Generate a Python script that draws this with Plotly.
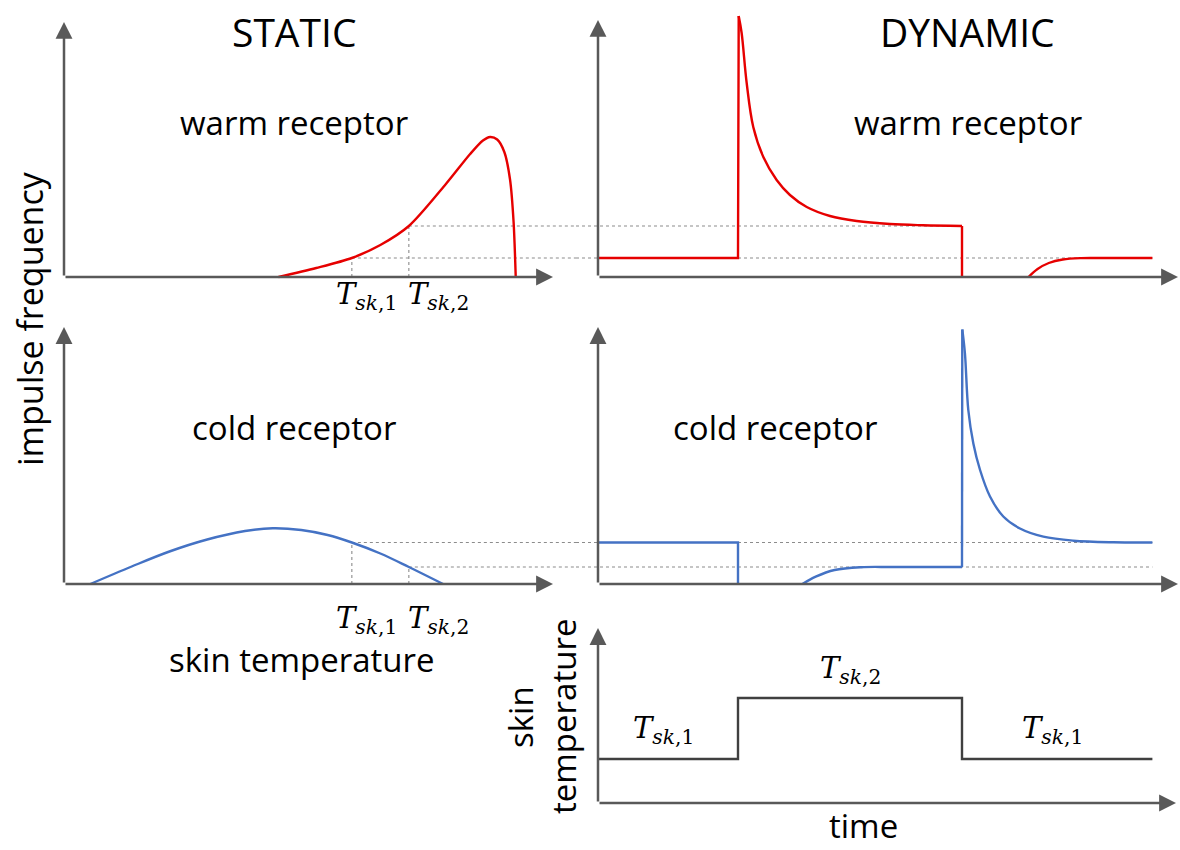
import plotly.graph_objects as go

W, H = 1180, 850

# ---------------------------------------------------------------- data ----
# skin temperatures (°C) of the two steady states
T_SK1, T_SK2 = 30.0, 34.0
# time course of the skin-temperature step (s)
T_ON, T_OFF, T_END = 10.0, 26.0, 39.6

# steady-state impulse frequencies (imp/s) at T_SK1 / T_SK2
WARM_F1, WARM_F2 = 3.8, 10.2
COLD_F1, COLD_F2 = 8.3, 3.4

# static characteristic of the warm receptor
warm_static_temp = [24.85, 27.5, 30.0, 32.0, 34.0, 36.6, 38.3, 39.2,
                    39.7, 40.2, 40.7, 41.1, 41.35, 41.5]
warm_static_freq = [0.0, 1.8, 3.8, 6.4, 10.2, 18.6, 24.6, 27.3,
                    28.0, 27.5, 25.0, 19.5, 11.0, 0.0]

# static characteristic of the cold receptor
cold_static_temp = [11.65, 14.55, 17.2, 19.85, 22.5, 24.45, 26.45, 28.3,
                    30.0, 32.0, 34.0, 36.4]
cold_static_freq = [0.0, 3.5, 6.5, 8.9, 10.6, 11.15, 10.8, 9.8,
                    8.3, 6.1, 3.4, 0.0]

# warm receptor, dynamic response
warm_on_time = [10.05, 10.26, 10.62, 11.09, 11.81, 12.76, 13.71, 14.91,
                16.57, 18.48, 20.86, 23.2, 26.0]
warm_on_freq = [52.2, 48.8, 38.8, 30.0, 24.0, 19.4, 16.4, 14.0,
                12.2, 11.2, 10.6, 10.35, 10.2]
warm_rec_time = [30.75, 31.4, 32.2, 33.2, 34.5, 36.0, 39.6]
warm_rec_freq = [0.0, 1.6, 2.8, 3.5, 3.78, 3.8, 3.8]

# cold receptor, dynamic response
cold_rec_time = [14.6, 15.55, 16.9, 18.8, 21.0, 26.0]
cold_rec_freq = [0.0, 1.46, 2.8, 3.36, 3.4, 3.4]
cold_off_time = [26.02, 26.21, 26.45, 26.81, 27.29, 28.0, 28.95, 30.14,
                 31.81, 33.95, 36.81, 39.6]
cold_off_freq = [50.9, 46.1, 34.8, 28.1, 22.8, 17.5, 13.5, 11.1,
                 9.46, 8.66, 8.34, 8.3]

# skin temperature step
step_time = [0.0, T_ON, T_OFF, T_END]
step_temp = [T_SK1, T_SK2, T_SK1, T_SK1]

# --------------------------------------------------------------- styles ---
RED = "#E60000"
BLUE = "#4472C4"
AXIS = "#595959"
GUIDE = "#8C8C8C"
TXT = "Open Sans"
MATH = "DejaVu Serif"


def px(v):
    return v / W


def py(v):
    return 1 - v / H


def hrange(dom, origin_px, origin_val, ppu):
    return [origin_val - (origin_px - dom[0]) / ppu,
            origin_val + (dom[1] - origin_px) / ppu]


def vrange(dom, origin_px, origin_val, ppu):
    # dom = [top_px, bottom_px]
    return [origin_val - (dom[1] - origin_px) / ppu,
            origin_val + (origin_px - dom[0]) / ppu]


# panel geometry (pixels) and axis scales
TEMP0, TEMP_PPU = 9.8, 14.25      # static panels: °C at origin, px per °C
TIME_PPU = 14.0                   # dynamic panels: px per second
FREQ_PPU = 5.0                    # px per imp/s
SKIN0, SKIN_PPU = 27.115, 15.25   # skin temperature axis

LEFT_DOM, RIGHT_DOM = [40, 576], [576, 1180]
ROW1_DOM, ROW2_DOM, ROW3_DOM = [8, 292], [315, 600], [612, 815]

ranges = {
    "x": hrange(LEFT_DOM, 64, TEMP0, TEMP_PPU),
    "x2": hrange(RIGHT_DOM, 598, 0.0, TIME_PPU),
    "x3": hrange(LEFT_DOM, 64, TEMP0, TEMP_PPU),
    "x4": hrange(RIGHT_DOM, 598, 0.0, TIME_PPU),
    "x5": hrange(RIGHT_DOM, 598, 0.0, TIME_PPU),
    "y": vrange(ROW1_DOM, 277, 0.0, FREQ_PPU),
    "y2": vrange(ROW1_DOM, 277, 0.0, FREQ_PPU),
    "y3": vrange(ROW2_DOM, 584, 0.0, FREQ_PPU),
    "y4": vrange(ROW2_DOM, 584, 0.0, FREQ_PPU),
    "y5": vrange(ROW3_DOM, 803, SKIN0, SKIN_PPU),
}
doms = {
    "x": LEFT_DOM, "x2": RIGHT_DOM, "x3": LEFT_DOM, "x4": RIGHT_DOM, "x5": RIGHT_DOM,
    "y": ROW1_DOM, "y2": ROW1_DOM, "y3": ROW2_DOM, "y4": ROW2_DOM, "y5": ROW3_DOM,
}

fig = go.Figure()


def line(xs, ys, ax, color, width=2.4, shape="linear", dash=None, smoothing=1.0):
    xa = "x" if ax == 1 else f"x{ax}"
    ya = "y" if ax == 1 else f"y{ax}"
    fig.add_trace(go.Scatter(
        x=xs, y=ys, xaxis=xa, yaxis=ya, mode="lines",
        line=dict(color=color, width=width, shape=shape, dash=dash,
                  smoothing=smoothing if shape == "spline" else None),
        hoverinfo="skip", showlegend=False))


def guide(xs, ys, ax):
    line(xs, ys, ax, GUIDE, width=1.1, dash="3px,3px")


# dashed guides linking static levels with the dynamic plateaus
for ax_s, ax_d, f1, f2, end2 in [(1, 2, WARM_F1, WARM_F2, T_OFF),
                                  (3, 4, COLD_F1, COLD_F2, T_END)]:
    xs_hi = ranges["x" if ax_s == 1 else f"x{ax_s}"][1]
    xd_lo = ranges[f"x{ax_d}"][0]
    guide([T_SK1, T_SK1], [0, f1], ax_s)
    guide([T_SK2, T_SK2], [0, f2], ax_s)
    guide([T_SK1, xs_hi], [f1, f1], ax_s)
    guide([T_SK2, xs_hi], [f2, f2], ax_s)
    guide([xd_lo, T_END], [f1, f1], ax_d)
    guide([xd_lo, end2], [f2, f2], ax_d)

# static curves
line(warm_static_temp, warm_static_freq, 1, RED, shape="spline", smoothing=0.8)
line(cold_static_temp, cold_static_freq, 3, BLUE, shape="spline")

# warm receptor, dynamic
line([0.0, T_ON, warm_on_time[0]], [WARM_F1, WARM_F1, warm_on_freq[0]], 2, RED)
line(warm_on_time, warm_on_freq, 2, RED, shape="spline")
line([T_OFF, T_OFF], [WARM_F2, 0.0], 2, RED)
line(warm_rec_time, warm_rec_freq, 2, RED, shape="spline")

# cold receptor, dynamic
line([0.0, T_ON, T_ON], [COLD_F1, COLD_F1, 0.0], 4, BLUE)
line(cold_rec_time, cold_rec_freq, 4, BLUE, shape="spline")
line([T_OFF, cold_off_time[0]], [COLD_F2, cold_off_freq[0]], 4, BLUE)
line(cold_off_time, cold_off_freq, 4, BLUE, shape="spline")

# skin temperature step
line(step_time, step_temp, 5, "#404040", width=2.4, shape="hv")

# ------------------------------------------------------------- layout -----
layout_axes = {}
for k, dom in doms.items():
    n = k[1:]
    if k.startswith("x"):
        layout_axes[f"xaxis{n}"] = dict(
            domain=[px(dom[0]), px(dom[1])], range=ranges[k], visible=False,
            anchor=f"y{n}", fixedrange=True)
    else:
        layout_axes[f"yaxis{n}"] = dict(
            domain=[py(dom[1]), py(dom[0])], range=ranges[k], visible=False,
            anchor=f"x{n}", fixedrange=True)

annotations = []


def axis_arrow(n, x0, y0, x1, y1):
    xr = "x" if n == 1 else f"x{n}"
    yr = "y" if n == 1 else f"y{n}"
    annotations.append(dict(
        x=x1, y=y1, ax=x0, ay=y0, xref=xr, yref=yr, axref=xr, ayref=yr,
        text="", showarrow=True, arrowhead=2, arrowsize=1.35, arrowwidth=2.5,
        arrowcolor=AXIS, standoff=0))


def val_h(px_val, origin_px, origin_val, ppu):
    return origin_val + (px_val - origin_px) / ppu


def val_v(py_val, origin_py, origin_val, ppu):
    return origin_val + (origin_py - py_val) / ppu


# axes with arrow heads
axis_specs = [
    (1, TEMP0, 0.0, val_h(553, 64, TEMP0, TEMP_PPU), val_v(22, 277, 0, FREQ_PPU)),
    (2, 0.0, 0.0, val_h(1178, 598, 0, TIME_PPU), val_v(20, 277, 0, FREQ_PPU)),
    (3, TEMP0, 0.0, val_h(553, 64, TEMP0, TEMP_PPU), val_v(327, 584, 0, FREQ_PPU)),
    (4, 0.0, 0.0, val_h(1178, 598, 0, TIME_PPU), val_v(327, 584, 0, FREQ_PPU)),
    (5, 0.0, SKIN0, val_h(1176, 598, 0, TIME_PPU), val_v(628, 803, SKIN0, SKIN_PPU)),
]
for n, x0, y0, xt, yt in axis_specs:
    axis_arrow(n, x0, y0, xt, y0)
    axis_arrow(n, x0, y0, x0, yt)


def text(t, x, y, size, angle=0, family=TXT, xref="paper", xshift=0,
         yanchor="middle"):
    annotations.append(dict(
        text=t, x=x if xref != "paper" else px(x), y=py(y), xref=xref, yref="paper",
        showarrow=False, textangle=angle, xshift=xshift,
        xanchor="center", yanchor=yanchor,
        font=dict(family=family, size=size, color="#000000")))


text("STATIC", 294, 32, 39)
text("DYNAMIC", 968, 31, 39)
text("warm receptor", 294, 122, 33)
text("warm receptor", 968, 122, 33)
text("cold receptor", 294, 427, 33)
text("cold receptor", 775, 427, 33)
text("impulse frequency", 30, 319, 34, angle=-90)
text("skin temperature", 302, 659, 33)
text("time", 863, 850, 33, yanchor="bottom")
text("skin", 520, 717, 33, angle=-90)
text("temperature", 563, 717, 33, angle=-90)

T1_LABEL = "<i>T</i><sub><i>sk</i>,1</sub>"
T2_LABEL = "<i>T</i><sub><i>sk</i>,2</sub>"
for yy in (296, 620):
    text(T1_LABEL, T_SK1, yy, 29, family=MATH, xref="x", xshift=15)
    text(T2_LABEL, T_SK2, yy, 29, family=MATH, xref="x", xshift=30)
text(T1_LABEL, 663, 730, 29, family=MATH)
text(T2_LABEL, 850, 670, 29, family=MATH)
text(T1_LABEL, 1052, 730, 29, family=MATH)

fig.update_layout(
    width=W, height=H, autosize=False,
    margin=dict(l=0, r=0, t=0, b=0),
    paper_bgcolor="white", plot_bgcolor="rgba(0,0,0,0)",
    showlegend=False, annotations=annotations, **layout_axes)

fig.write_html("out.html", config={"displayModeBar": False})
